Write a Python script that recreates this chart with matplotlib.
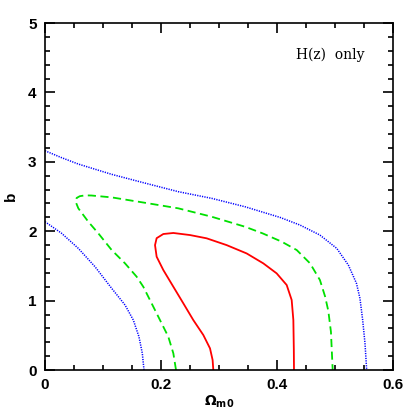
import numpy as np
import matplotlib
matplotlib.use("Agg")
import matplotlib.pyplot as plt
from matplotlib.ticker import MultipleLocator

# contour points (Omega_m0, b)
red_x = [0.2902, 0.289, 0.2845, 0.273, 0.2557, 0.2385, 0.2213, 0.204, 0.1925, 0.1897,
         0.1925, 0.204, 0.2213, 0.25, 0.2787, 0.3132, 0.3477, 0.3764, 0.3994, 0.4167,
         0.4253, 0.4282, 0.4290, 0.4293]
red_y = [0.00, 0.144, 0.312, 0.504, 0.72, 0.961, 1.20, 1.441, 1.633, 1.80,
         1.90, 1.96, 1.975, 1.945, 1.898, 1.80, 1.68, 1.537, 1.393, 1.225,
         1.009, 0.72, 0.30, 0.00]

green_x = [0.2259, 0.2213, 0.2126, 0.1954, 0.1695, 0.158, 0.138, 0.115, 0.0919, 0.0747,
           0.0575, 0.0529, 0.0546, 0.060, 0.069, 0.080, 0.115, 0.1724, 0.2299,
           0.2874, 0.3448, 0.375, 0.408, 0.434, 0.457, 0.474, 0.483, 0.4885, 0.493, 0.496]
green_y = [0.00, 0.24, 0.48, 0.768, 1.20, 1.345, 1.537, 1.729, 1.97, 2.137,
           2.33, 2.425, 2.48, 2.505, 2.517, 2.515, 2.488, 2.41, 2.33,
           2.209, 2.065, 1.97, 1.85, 1.729, 1.537, 1.297, 1.057, 0.85, 0.55, 0.00]

blue_up_x = [0.000, 0.0287, 0.0575, 0.115, 0.1695, 0.2299, 0.2874, 0.3448, 0.405, 0.4397,
             0.474, 0.503, 0.523, 0.537, 0.543, 0.5477, 0.5517, 0.5546]
blue_up_y = [3.16, 3.06, 2.968, 2.82, 2.70, 2.57, 2.474, 2.353, 2.20, 2.089,
             1.945, 1.753, 1.513, 1.249, 1.033, 0.72, 0.385, 0.00]

blue_lo_x = [0.000, 0.0287, 0.0575, 0.0862, 0.115, 0.138, 0.1523,
             0.162, 0.1678, 0.1707]
blue_lo_y = [2.137, 1.97, 1.753, 1.489, 1.177, 0.937, 0.72,
             0.48, 0.24, 0.00]

x_ticks = [0, 0.2, 0.4, 0.6]
x_tick_labels = ["0", "0.2", "0.4", "0.6"]
y_ticks = [0, 1, 2, 3, 4, 5]

fig = plt.figure(figsize=(4.15, 4.15), dpi=100)
ax = fig.add_axes([0.1084, 0.1084, 0.8386, 0.836])

ax.plot(blue_up_x, blue_up_y, color="blue", ls=(0, (0.8, 0.8)), lw=1.1)
ax.plot(blue_lo_x, blue_lo_y, color="blue", ls=(0, (0.8, 0.8)), lw=1.1)
ax.plot(green_x, green_y, color="#00e000", ls=(0, (4.5, 2.5)), lw=1.3)
ax.plot(red_x, red_y, color="red", lw=1.3)

ax.set_xlim(0, 0.6)
ax.set_ylim(0, 5)
ax.set_xticks(x_ticks)
ax.set_xticklabels(x_tick_labels)
ax.set_yticks(y_ticks)
ax.xaxis.set_minor_locator(MultipleLocator(0.05))
ax.yaxis.set_minor_locator(MultipleLocator(0.2))
ax.tick_params(which="both", direction="in", top=True, right=True, width=1.2)
ax.tick_params(which="major", length=7, pad=6)
ax.tick_params(which="minor", length=3.5)
for lab in ax.get_xticklabels() + ax.get_yticklabels():
    lab.set_fontweight("bold")
    lab.set_fontsize(11)
    lab.set_family("Liberation Sans")
for s in ax.spines.values():
    s.set_linewidth(1.2)

ax.set_xlabel(r"$\mathbf{\Omega_{m0}}$", fontsize=10, labelpad=1)
ax.set_ylabel("b", fontsize=11, fontweight="bold", labelpad=7, family="Liberation Sans")
ax.text(0.432, 4.54, "H(z)  only", fontsize=10, family="DejaVu Serif",
        va="center", ha="left")

fig.savefig("out.png", dpi=100)
